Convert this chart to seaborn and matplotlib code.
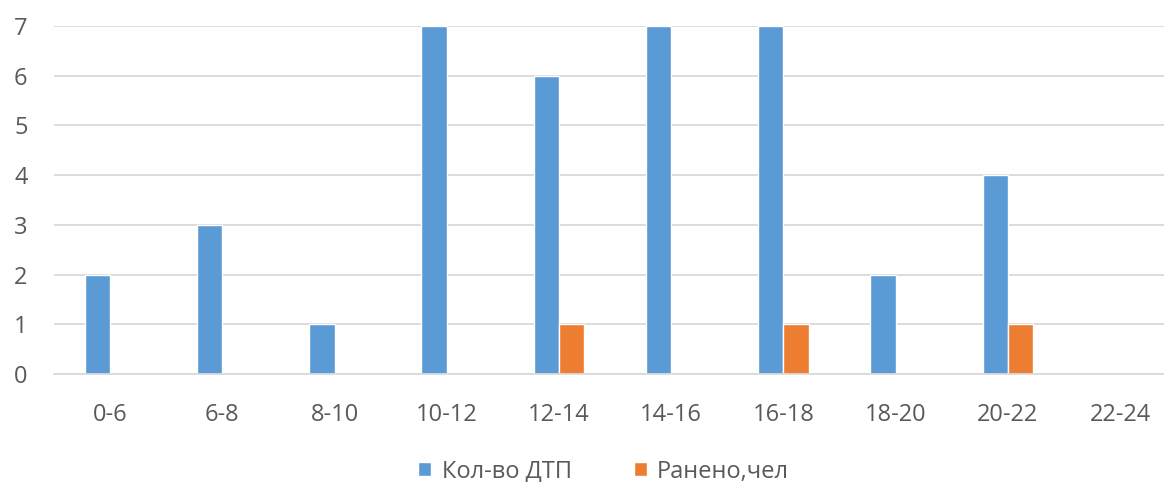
import pandas as pd
import matplotlib.pyplot as plt
import seaborn as sns

hours = ["0-6", "6-8", "8-10", "10-12", "12-14", "14-16", "16-18", "18-20", "20-22", "22-24"]
dtp = [2, 3, 1, 7, 6, 7, 7, 2, 4, 0]
injured = [0, 0, 0, 0, 1, 0, 1, 0, 1, 0]

df = pd.DataFrame({
    "Интервал": hours * 2,
    "Значение": dtp + injured,
    "Ряд": ["Кол-во ДТП"] * len(hours) + ["Ранено,чел"] * len(hours),
})

sns.set_style("white")
plt.rcParams["font.family"] = ["Open Sans", "DejaVu Sans"]

fig = plt.figure(figsize=(11.64, 4.82), dpi=100)
# plot area runs a bit past the right edge, like in the source picture
ax = fig.add_axes([0.0464, 0.224, 0.964, 0.722])

sns.barplot(data=df, x="Интервал", y="Значение", hue="Ряд",
            palette=["#5B9BD5", "#ED7D31"], width=0.45, ax=ax, saturation=1)

ax.set_ylim(0, 7)
ax.set_yticks(range(8))
ax.yaxis.grid(True, color="#D9D9D9", linewidth=1.3)
ax.set_axisbelow(True)
ax.set_xlabel("")
ax.set_ylabel("")
for s in ["top", "right", "left"]:
    ax.spines[s].set_visible(False)
ax.spines["bottom"].set_color("#D9D9D9")
ax.spines["bottom"].set_linewidth(1.3)
ax.tick_params(axis="x", length=0, pad=21, labelsize=17, labelcolor="#595959")
ax.tick_params(axis="y", length=0, pad=19, labelsize=17, labelcolor="#595959")

ax.legend(loc="upper center", bbox_to_anchor=(0.49, -0.185), ncol=2, frameon=False,
          fontsize=17, labelcolor="#595959", handlelength=0.55, handleheight=0.55,
          columnspacing=2.6, handletextpad=0.45)

plt.savefig("out.png", dpi=100)
